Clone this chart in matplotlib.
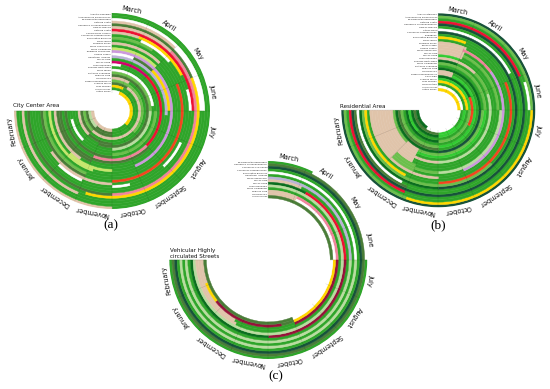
import numpy as np
import matplotlib
matplotlib.use('Agg')
import matplotlib.pyplot as plt

months = ['March', 'April', 'May', 'June', 'July', 'August', 'September',
          'October', 'November', 'December', 'January', 'February']

# each ring, outermost first: category codes and the month where each one stops
species_a = ['Acantia ulmoides', 'Acrocephalus alexandrinus', 'Broussonetia papyrifera', 'Catalpa ovata',
             'Casuarina cunninghamiana', 'Cedrus species', 'Catalpa ovata', 'Chamaerops humilis',
             'Cupressus sempervirens', 'Eucalyptus globulus', 'Ficus carica', 'Fraxinus ornus',
             'Pinus canariensis', 'Pinus halepensis', 'Juniperus communis', 'Laurus nobilis',
             'Ligustrum lucidum', 'Morus alba', 'Morus nigra', 'Olea europaea',
             'Phoenix dactylifera', 'Pinus pinea', 'Platanus acerifolia', 'Populus alba',
             'Quercus ilex', 'Robinia pseudoacacia', 'Schinus molle', 'Tilia species',
             'Ulmus minor', 'Urtica urens']
codes_a = ['gt', 'g', 'wg', 'twgt', 'dfg', 'tkd', 'rg', 'tfgwg', 'gwgwgwgwg', 'lgtg',
           'gogd', 'tgl', 'g', 'ygy', 'vgyg', 'wdfgt', 'sgd', 'gd', 'mrkg', 'wgd',
           'glg', 'wgwg', 'lpg', 'dg', 'tgdt', 'lgd', 'dtl', 'fgd', 'gdp', 'wfgt']
ends_a = [[8, 12], [12], [4, 12], [2, 4, 9, 12], [3, 8.8, 12], [2, 8, 12], [4, 12], [0.9, 2.8, 3.3, 4, 12],
          [1, 2.2, 5.1, 6.1, 7.4, 8, 9.05, 10, 12], [1.5, 8, 10.5, 12],
          [3, 8, 9, 12], [2, 9, 12], [12], [2, 8.8, 12], [7, 8, 10, 12], [1, 2, 4, 9.5, 12], [4.2, 9, 12], [6, 12],
          [2, 6, 9, 12], [0.5, 8, 12], [4, 8, 12], [3.7, 10, 11.5, 12], [4, 8, 12], [9, 12], [1.4, 8, 10, 12],
          [6, 10, 12], [1.5, 10, 12], [1.2, 8, 12], [8, 10, 12], [1, 6, 8, 12]]

species_b = ['Acacia retinodes', 'Acrocephalus alexandrinus', 'Broussonetia papyrifera', 'Catalpa ovata',
             'Casuarina cunninghamiana', 'Cedrus species', 'Citrus limon', 'Cupressus sempervirens',
             'Elaeagnus', 'Eucalyptus globulus', 'Ficus carica', 'Fraxinus ornus',
             'Juglans regia', 'Laurus nobilis', 'Melia azedarach', 'Morus alba',
             'Morus nigra', 'Olea europaea', 'Phoenix dactylifera', 'Pinus halepensis',
             'Platanus acerifolia', 'Populus alba', 'Quercus ilex', 'Robinia pseudoacacia',
             'Salix alba', 'Schinus molle', 'Tilia species', 'Tipuana tipu',
             'Ulmus minor', 'Urtica urens']
codes_b = ['D', 'lfl', 'gwg', 'rgr', 'D', 'gd', 'wgw', 'De', 'gl', 'fgogf',
           'g', 'tgt', 'tkvglt', 'tgplt', 'tlglt', 'tgt', 'ngt', 'tlpt', 'egt', 'lnt',
           'gltl', 'eDe', 'tgd', 'tnl', 'eog', 'nle', 'fgn', 'gne', 'wgnd', 'fwet']
ends_b = [[12], [4, 8.9, 12], [3.2, 4, 12], [3, 9, 12], [12], [9, 12], [2.8, 9.2, 12], [8, 12],
          [6, 12], [1, 3, 8, 9.2, 12], [12], [1.1, 8, 12], [1, 2.4, 7, 9, 10, 12], [1.1, 4, 8, 10, 12],
          [1.1, 4, 9, 10, 12], [1.1, 9.2, 12], [1, 9.2, 12], [2, 3.2, 8, 12], [1, 9.2, 12], [4, 9.2, 12],
          [4, 9.2, 10, 12], [4, 8, 12], [1, 8, 12], [1, 8, 12], [3, 5.2, 12], [4, 8, 12], [4, 10, 12],
          [4, 8, 12], [4, 6, 8, 12], [4, 9.5, 12]]

species_c = ['Broussonetia papyrifera', 'Casuarina cunninghamiana', 'Cupressus x leylandii',
             'Cupressus sempervirens', 'Eucalyptus globulus', 'Ligustrum lucidum', 'Melia azedarach',
             'Morus alba', 'Morus nigra', 'Olea europaea', 'Pinus halepensis', 'Populus alba',
             'Quercus ilex', 'Ulmus minor']
codes_c = ['gwg', 'd', 'D', 'g', 'wp', 'g', 'sp', 'tg', 'erce', 'p', 'gt', 'tkcgt', 'twfdcft', 'dwd']
ends_c = [[1.2, 4, 12], [12], [12], [12], [4, 12], [12], [4, 12], [1.1, 12], [1.3, 4, 8, 12],
          [12], [9.2, 12], [1.1, 4, 7, 9.3, 12], [1.1, 4, 7, 7.5, 10.3, 11.1, 12], [4, 7, 12]]

# colour for each category code
palette = {'g': '#2fa52a', 'd': '#4a7d38', 'l': '#6cbf4c', 'p': '#b9dca0', 'y': '#c6e66c',
           't': '#e0c4aa', 'r': '#ee1133', 'o': '#f4451e', 'k': '#f0859b', 'v': '#cc99dd',
           's': '#bab4d6', 'm': '#d4006c', 'f': '#ffd700', 'n': '#33cc33', 'D': '#17533a',
           'e': '#0b6e1f', 'c': '#96123a', 'w': '#ffffff'}

W, H = 550.0, 389.0


def make_axes(fig, cx, cy, radius):
    ax = fig.add_axes([(cx - radius) / W, 1 - (cy + radius) / H, 2 * radius / W, 2 * radius / H],
                      projection='polar')
    ax.set_theta_zero_location('N')
    ax.set_theta_direction(-1)
    ax.spines['polar'].set_visible(False)
    ax.grid(False)
    ax.set_xticks([])
    ax.set_yticks([])
    ax.patch.set_alpha(0)
    return ax


def draw_panel(fig, cx, cy, radius, hole, species, codes, ends):
    ax = make_axes(fig, cx, cy, radius)
    n = len(codes)
    step = np.pi / 2 / 4
    for i in range(n):
        bottom = n - 1 - i
        start = 0
        for code, end in zip(codes[i], ends[i]):
            if end > start:
                ax.bar((start + end) / 2 * step, 1.0, width=(end - start) * step, bottom=bottom,
                       color=palette[code], edgecolor=palette[code], linewidth=0.3)
            start = end
        ax.annotate(species[i], xy=(0, bottom + 0.5), xytext=(-1, 0), textcoords='offset points',
                    ha='right', va='center', fontsize=1.7, color='#222222')
    ax.vlines(np.arange(0, 13) * step, 0, n, color='#00000030', linewidth=0.3)
    ax.set_ylim(-hole, n)
    # month names sit on the circle, turned with it
    for k, name in enumerate(months):
        angle = (k + 0.5) * 22.5
        a = np.deg2rad(angle)
        fig.text((cx + (radius + 4.5) * np.sin(a)) / W, 1 - (cy - (radius + 4.5) * np.cos(a)) / H,
                 name, rotation=-angle, rotation_mode='anchor', ha='center', va='center',
                 fontsize=4.8, color='#111111')


fig = plt.figure(figsize=(W / 100, H / 100), dpi=100)
fig.patch.set_facecolor('white')

draw_panel(fig, 112, 111, 98, 6.75, species_a, codes_a, ends_a)
draw_panel(fig, 438.3, 110.3, 97, 7.5, species_b, codes_b, ends_b)
draw_panel(fig, 268.3, 260, 99, 23.4, species_c, codes_c, ends_c)

fig.text(13 / W, 1 - 105.5 / H, 'City Center Area', fontsize=4.1, va='center', color='#111111')
fig.text(340 / W, 1 - 106 / H, 'Residential Area', fontsize=4.1, va='center', color='#111111')
fig.text(170 / W, 1 - 253.5 / H, 'Vehicular Highly\ncirculated Streets', fontsize=4.1, va='center',
         color='#111111', linespacing=1.3)

fig.text(111 / W, 1 - 225 / H, '(a)', family='Liberation Serif', fontsize=9.5, ha='center', va='center')
fig.text(438 / W, 1 - 225 / H, '(b)', family='Liberation Serif', fontsize=9.5, ha='center', va='center')
fig.text(275.5 / W, 1 - 376 / H, '(c)', family='Liberation Serif', fontsize=9.5, ha='center', va='center')

fig.savefig('out.png', dpi=100)
